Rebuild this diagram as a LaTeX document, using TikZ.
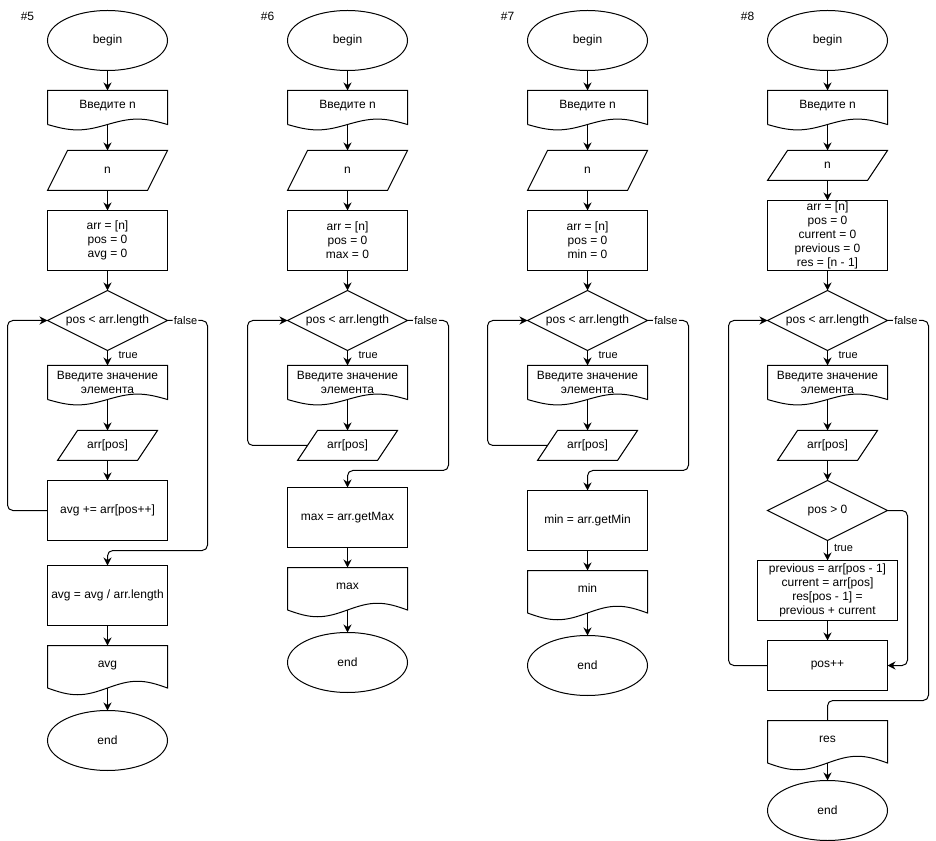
\documentclass[tikz,border=0pt]{standalone}
\usepackage{fontspec}
\setmainfont{Liberation Sans}
\usetikzlibrary{positioning,arrows.meta,shapes.geometric}

\begin{document}
\begin{tikzpicture}[
		x=0.75pt, y=-0.75pt,
		line width=0.75pt,
		base/.style={
			font=\fontsize{9}{10.5}\selectfont,
			align=center,
			outer sep=0pt
		},
		term/.style={base, draw, ellipse, minimum width=90pt, minimum height=45pt, inner sep=0pt},
		box/.style={base, draw, rectangle, minimum width=90pt, inner sep=2pt},
		cond/.style={base, draw, diamond, aspect=2, minimum width=90pt, minimum height=45pt, inner sep=0pt},
		io/.style 2 args={
			base, minimum width=#1, minimum height=#2, inner sep=0pt,
			append after command={\pgfextra{
					\draw ([xshift=7.5pt]\tikzlastnode.north west) -- ([xshift=7.5pt]\tikzlastnode.north east)
					-- ([xshift=-7.5pt]\tikzlastnode.south east) -- ([xshift=-7.5pt]\tikzlastnode.south west) -- cycle;}}
		},
		docbase/.style={
			base, minimum width=90pt, minimum height=0.85*#1, inner sep=0pt,
			append after command={\pgfextra{
					\draw (\tikzlastnode.south west) -- (\tikzlastnode.north west) -- (\tikzlastnode.north east)
					-- (\tikzlastnode.south east) sin ++(-22.5pt,0.135*#1) cos ++(-22.5pt,-0.135*#1)
					sin ++(-22.5pt,-0.135*#1) cos ++(-22.5pt,0.135*#1);}}
		},
		doc/.style={docbase=30pt, text height=6.5pt, text depth=4.5pt},
		outdoc/.style={docbase=37.5pt, text height=6.5pt, text depth=5.6pt},
		lbl/.style={font=\fontsize{9}{10.5}\selectfont},
		yes/.style={font=\fontsize{8.25}{9}\selectfont, anchor=west, inner sep=1pt, xshift=7pt, yshift=2pt},
		no/.style={font=\fontsize{8.25}{9}\selectfont, fill=white, inner sep=1pt},
		arrow/.style={-{Stealth[length=6pt,width=6pt]}},
		link/.style={-}
		]
		\useasboundingbox (-0.5,-0.5) rectangle (935.5,840.5);
		
		% #5
		\node[lbl] (h5) at (27,16) {\#5};
		\node[term] (b5) at (107,40) {begin};
		\node[doc, below=15pt of b5] (i5) {Введите n};
		\node[io={75pt}{30pt}, below=19.5pt of i5] (n5) {n};
		\node[box, minimum height=45pt, below=15pt of n5] (a5) {arr = [n]\\pos = 0\\avg = 0};
		\node[cond, below=15pt of a5] (c5) {pos < arr.length};
		\node[docbase=30pt, below=11.25pt of c5] (e5) {Введите значение\\элемента};
		\node[io={60pt}{22.5pt}, below=23.25pt of e5] (p5) {arr[pos]};
		\node[box, minimum height=45pt, below=15pt of p5] (s5) {avg += arr[pos++]};
		\node[box, minimum height=45pt, below=18.75pt of s5] (v5) {avg = avg / arr.length};
		\node[outdoc, below=15pt of v5] (o5) {avg};
		\node[term, below=16.875pt of o5] (z5) {end};
		
		\draw[arrow] (b5) -- (i5);
		\draw[arrow] (i5) -- (n5);
		\draw[arrow] (n5) -- (a5);
		\draw[arrow] (a5) -- (c5);
		\draw[arrow] (c5) -- node[yes] (t5) {true} (e5);
		\draw[arrow] (e5) -- (p5);
		\draw[arrow] (p5) -- (s5);
		\draw[arrow, rounded corners=4pt] (s5.west) -- ++(-30pt,0) |- (c5.west);
		\draw[arrow, rounded corners=4pt] (c5.east) -- node[no, pos=0.45] (f5) {false} ++(30pt,0)
		|- ([yshift=11.25pt]v5.north) -- (v5.north);
		\draw[arrow] (v5) -- (o5);
		\draw[arrow] (o5) -- (z5);
		
		% #6
		\node[lbl] (h6) at (267,16) {\#6};
		\node[term] (b6) at (347,40) {begin};
		\node[doc, below=15pt of b6] (i6) {Введите n};
		\node[io={75pt}{30pt}, below=19.5pt of i6] (n6) {n};
		\node[box, minimum height=45pt, below=15pt of n6] (a6) {arr = [n]\\pos = 0\\max = 0};
		\node[cond, below=15pt of a6] (c6) {pos < arr.length};
		\node[docbase=30pt, below=11.25pt of c6] (e6) {Введите значение\\элемента};
		\node[io={60pt}{22.5pt}, below=23.25pt of e6] (p6) {arr[pos]};
		\node[box, minimum height=45pt, below=20.25pt of p6] (m6) {max = arr.getMax};
		\node[outdoc, below=15pt of m6] (o6) {max};
		\node[term, below=16.875pt of o6] (z6) {end};
		
		\draw[arrow] (b6) -- (i6);
		\draw[arrow] (i6) -- (n6);
		\draw[arrow] (n6) -- (a6);
		\draw[arrow] (a6) -- (c6);
		\draw[arrow] (c6) -- node[yes] (t6) {true} (e6);
		\draw[arrow] (e6) -- (p6);
		\draw[arrow, rounded corners=4pt] (p6.west) -- ++(-45pt,0) |- (c6.west);
		\draw[arrow, rounded corners=4pt] (c6.east) -- node[no, pos=0.45] (f6) {false} ++(30.75pt,0)
		|- ([yshift=12.75pt]m6.north) -- (m6.north);
		\draw[arrow] (m6) -- (o6);
		\draw[arrow] (o6) -- (z6);
		
		% #7
		\node[lbl] (h7) at (507,16) {\#7};
		\node[term] (b7) at (587,40) {begin};
		\node[doc, below=15pt of b7] (i7) {Введите n};
		\node[io={75pt}{30pt}, below=19.5pt of i7] (n7) {n};
		\node[box, minimum height=45pt, below=15pt of n7] (a7) {arr = [n]\\pos = 0\\min = 0};
		\node[cond, below=15pt of a7] (c7) {pos < arr.length};
		\node[docbase=30pt, below=11.25pt of c7] (e7) {Введите значение\\элемента};
		\node[io={60pt}{22.5pt}, below=23.25pt of e7] (p7) {arr[pos]};
		\node[box, minimum height=45pt, below=22.5pt of p7] (m7) {min = arr.getMin};
		\node[outdoc, below=15pt of m7] (o7) {min};
		\node[term, below=16.875pt of o7] (z7) {end};
		
		\draw[arrow] (b7) -- (i7);
		\draw[arrow] (i7) -- (n7);
		\draw[arrow] (n7) -- (a7);
		\draw[arrow] (a7) -- (c7);
		\draw[arrow] (c7) -- node[yes] (t7) {true} (e7);
		\draw[arrow] (e7) -- (p7);
		\draw[arrow, rounded corners=4pt] (p7.west) -- ++(-45pt,0) |- (c7.west);
		\draw[arrow, rounded corners=4pt] (c7.east) -- node[no, pos=0.45] (f7) {false} ++(30.75pt,0)
		|- ([yshift=15pt]m7.north) -- (m7.north);
		\draw[arrow] (m7) -- (o7);
		\draw[arrow] (o7) -- (z7);
		
		% #8
		\node[lbl] (h8) at (747,16) {\#8};
		\node[term] (b8) at (827,40) {begin};
		\node[doc, below=15pt of b8] (i8) {Введите n};
		\node[io={75pt}{22.5pt}, below=19.5pt of i8] (n8) {n};
		\node[box, minimum height=52.5pt, inner ysep=0pt, below=15pt of n8] (a8)
		{arr = [n]\\pos = 0\\current = 0\\previous = 0\\res = [n - 1]};
		\node[cond, below=15pt of a8] (c8) {pos < arr.length};
		\node[docbase=30pt, below=11.25pt of c8] (e8) {Введите значение\\элемента};
		\node[io={60pt}{22.5pt}, below=23.25pt of e8] (p8) {arr[pos]};
		\node[cond, below=15pt of p8] (d8) {pos > 0};
		\node[box, minimum width=105pt, minimum height=45pt, below=15pt of d8] (s8)
		{previous = arr[pos - 1]\\current = arr[pos]\\res[pos - 1] =\\previous + current};
		\node[box, minimum height=37.5pt, below=15pt of s8] (q8) {pos++};
		\node[outdoc, below=22.5pt of q8] (o8) {res};
		\node[term, below=13.125pt of o8] (z8) {end};
		
		\draw[arrow] (b8) -- (i8);
		\draw[arrow] (i8) -- (n8);
		\draw[arrow] (n8) -- (a8);
		\draw[arrow] (a8) -- (c8);
		\draw[arrow] (c8) -- node[yes] (t8) {true} (e8);
		\draw[arrow] (e8) -- (p8);
		\draw[arrow] (p8) -- (d8);
		\draw[arrow] (d8) -- node[yes, xshift=-3.5pt] (u8) {true} (s8);
		\draw[arrow] (s8) -- (q8);
		\draw[arrow, rounded corners=4pt] (d8.east) -- ++(15pt,0) |- (q8.east);
		\draw[arrow, rounded corners=4pt] (q8.west) -- ++(-29.25pt,0) |- (c8.west);
		\draw[link, rounded corners=4pt] (c8.east) -- node[no, pos=0.45] (f8) {false} ++(30.75pt,0)
		|- ([yshift=15pt]o8.north) -- (o8.north);
		\draw[arrow] (o8) -- (z8);
		
	\end{tikzpicture}
\end{document}
